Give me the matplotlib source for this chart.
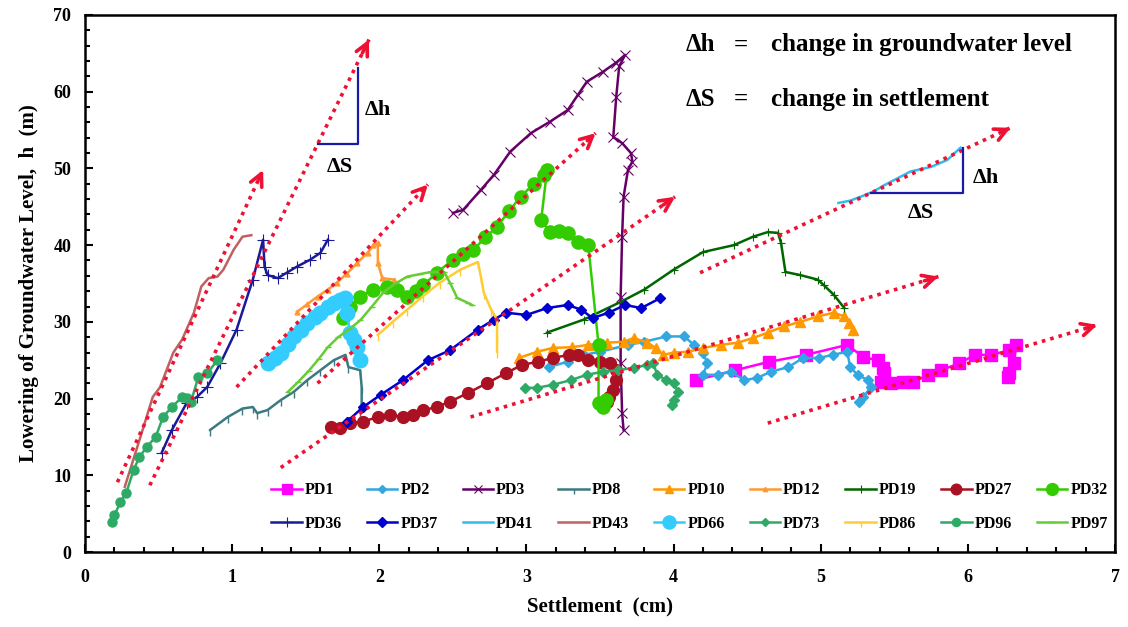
import numpy as np
import matplotlib
matplotlib.use("Agg")
import matplotlib.pyplot as plt

plt.rcParams['font.family'] = ['Liberation Serif', 'DejaVu Serif']
plt.rcParams['font.weight'] = 'bold'
plt.rcParams['axes.labelweight'] = 'bold'

# settlement (cm) / lowering of groundwater level (m)
pd1_x = [4.15, 4.42, 4.65, 4.90, 5.18, 5.29, 5.39, 5.42, 5.43, 5.41, 5.48, 5.56, 5.63, 5.73, 5.82, 5.94, 6.05, 6.16, 6.28, 6.33, 6.31, 6.28, 6.27]
pd1_y = [22.4, 23.7, 24.8, 25.7, 27.0, 25.4, 25.0, 24.0, 23.3, 22.2, 22.0, 22.2, 22.2, 23.1, 23.7, 24.6, 25.7, 25.7, 26.3, 27.0, 24.6, 23.3, 22.8]
pd2_x = [3.15, 3.28, 3.39, 3.50, 3.69, 3.80, 3.95, 4.07, 4.14, 4.20, 4.23, 4.20, 4.30, 4.39, 4.48, 4.57, 4.66, 4.78, 4.88, 4.99, 5.08, 5.18, 5.20, 5.25, 5.32, 5.34, 5.29, 5.26]
pd2_y = [24.1, 24.8, 25.7, 26.1, 27.0, 27.4, 28.1, 28.1, 27.0, 25.9, 24.6, 23.1, 23.1, 23.5, 22.4, 22.7, 23.5, 24.1, 25.3, 25.3, 25.7, 26.1, 24.1, 23.1, 22.4, 21.5, 20.2, 19.6]
pd3_x = [2.50, 2.57, 2.69, 2.78, 2.89, 3.03, 3.16, 3.28, 3.35, 3.41, 3.52, 3.61, 3.67, 3.63, 3.61, 3.59, 3.65, 3.71, 3.72, 3.69, 3.66, 3.65, 3.64, 3.64, 3.65, 3.66]
pd3_y = [44.2, 44.6, 47.2, 49.2, 52.2, 54.6, 56.1, 57.6, 59.6, 61.3, 62.6, 63.8, 64.8, 63.3, 59.3, 54.1, 53.3, 52.0, 50.9, 49.8, 46.3, 41.1, 33.3, 24.6, 18.1, 15.9]
pd8_x = [0.85, 0.97, 1.07, 1.14, 1.17, 1.24, 1.33, 1.42, 1.51, 1.60, 1.69, 1.77, 1.79, 1.87, 1.88, 1.88, 1.87]
pd8_y = [15.9, 17.6, 18.7, 18.9, 18.1, 18.5, 19.8, 20.9, 22.4, 23.7, 25.0, 25.7, 24.1, 23.7, 21.5, 18.9, 18.3]
pd10_x = [2.95, 3.07, 3.18, 3.31, 3.42, 3.55, 3.66, 3.73, 3.82, 3.88, 3.93, 4.00, 4.10, 4.20, 4.32, 4.44, 4.54, 4.64, 4.75, 4.86, 4.98, 5.09, 5.16, 5.19, 5.22]
pd10_y = [25.3, 26.1, 26.6, 26.7, 27.0, 27.3, 27.4, 27.9, 27.3, 26.6, 25.7, 26.0, 26.1, 26.6, 27.0, 27.3, 27.9, 28.6, 29.4, 30.0, 30.7, 31.2, 30.7, 29.9, 29.0]
pd12_x = [1.44, 1.51, 1.58, 1.65, 1.71, 1.78, 1.85, 1.92, 1.96, 1.99, 1.99, 2.02, 2.10]
pd12_y = [31.3, 32.3, 33.3, 34.2, 35.1, 36.3, 37.7, 39.0, 40.0, 40.3, 37.7, 35.7, 35.5]
pd19_x = [3.14, 3.39, 3.64, 3.80, 4.00, 4.20, 4.41, 4.54, 4.64, 4.71, 4.73, 4.76, 4.86, 4.98, 5.02, 5.09, 5.16]
pd19_y = [28.6, 30.3, 32.6, 34.2, 36.8, 39.1, 40.0, 41.1, 41.7, 41.6, 40.3, 36.5, 36.1, 35.5, 34.8, 33.5, 31.8]
pd27_x = [1.67, 1.73, 1.80, 1.89, 1.99, 2.07, 2.16, 2.23, 2.30, 2.39, 2.48, 2.60, 2.73, 2.86, 2.97, 3.08, 3.18, 3.29, 3.35, 3.42, 3.50, 3.57, 3.61, 3.61, 3.59, 3.56, 3.55]
pd27_y = [16.3, 16.2, 16.8, 17.0, 17.6, 17.9, 17.6, 17.9, 18.5, 18.9, 19.6, 20.7, 22.0, 23.3, 24.4, 24.8, 25.3, 25.7, 25.7, 25.0, 24.8, 24.6, 23.7, 22.4, 21.1, 20.2, 19.6]
pd32_x = [1.75, 1.80, 1.87, 1.96, 2.05, 2.12, 2.19, 2.25, 2.30, 2.39, 2.50, 2.57, 2.64, 2.72, 2.80, 2.88, 2.96, 3.05, 3.12, 3.14, 3.10, 3.16, 3.22, 3.28, 3.35, 3.42, 3.49, 3.49, 3.52, 3.54]
pd32_y = [30.5, 32.0, 33.3, 34.2, 34.6, 34.2, 33.3, 34.0, 34.8, 36.4, 38.1, 38.8, 39.4, 41.0, 42.4, 44.4, 46.3, 48.0, 49.2, 49.8, 43.3, 41.7, 41.9, 41.6, 40.4, 40.0, 27.0, 19.4, 18.9, 19.8]
pd36_x = [0.52, 0.59, 0.69, 0.76, 0.83, 0.92, 1.03, 1.14, 1.21, 1.22, 1.24, 1.31, 1.37, 1.44, 1.53, 1.60, 1.65]
pd36_y = [12.9, 15.9, 19.4, 20.2, 21.5, 24.6, 29.0, 35.5, 40.7, 37.2, 36.1, 35.7, 36.4, 37.2, 38.1, 39.0, 40.7]
pd37_x = [1.78, 1.89, 2.01, 2.16, 2.33, 2.48, 2.67, 2.78, 2.86, 3.00, 3.14, 3.28, 3.37, 3.45, 3.56, 3.67, 3.78, 3.91]
pd37_y = [17.0, 18.9, 20.5, 22.4, 25.0, 26.3, 29.0, 30.3, 31.2, 30.9, 31.8, 32.2, 31.6, 30.5, 31.2, 32.2, 31.8, 33.1]
pd41_x = [5.12, 5.20, 5.27, 5.36, 5.43, 5.50, 5.61, 5.75, 5.86, 5.95]
pd41_y = [45.5, 45.8, 46.3, 47.0, 47.8, 48.5, 49.6, 50.2, 51.1, 52.7]
pd43_x = [0.27, 0.37, 0.46, 0.51, 0.60, 0.66, 0.74, 0.79, 0.84, 0.90, 0.94, 1.01, 1.07, 1.13]
pd43_y = [8.5, 14.6, 20.2, 21.5, 26.0, 27.7, 31.2, 34.6, 35.7, 35.9, 36.8, 39.4, 41.1, 41.3]
pd66_x = [1.24, 1.29, 1.33, 1.38, 1.42, 1.47, 1.51, 1.56, 1.60, 1.65, 1.69, 1.73, 1.77, 1.78, 1.80, 1.83, 1.85, 1.87]
pd66_y = [24.6, 25.3, 26.0, 27.1, 28.1, 29.0, 29.9, 30.6, 31.2, 31.9, 32.5, 32.8, 33.1, 31.2, 28.6, 27.6, 26.7, 25.0]
pd73_x = [2.99, 3.07, 3.18, 3.30, 3.41, 3.52, 3.62, 3.73, 3.82, 3.86, 3.89, 3.95, 4.00, 4.03, 4.00, 3.99]
pd73_y = [21.4, 21.4, 21.8, 22.4, 23.1, 23.5, 23.7, 24.0, 24.4, 24.6, 23.1, 22.4, 22.0, 20.9, 19.8, 19.2]
pd86_x = [1.99, 2.09, 2.19, 2.30, 2.41, 2.55, 2.67, 2.69, 2.71, 2.76, 2.80, 2.80, 2.80]
pd86_y = [28.3, 30.0, 31.6, 33.4, 35.1, 36.8, 37.8, 35.9, 33.8, 31.6, 30.3, 28.1, 26.1]
pd96_x = [0.18, 0.20, 0.24, 0.28, 0.33, 0.37, 0.42, 0.48, 0.53, 0.59, 0.66, 0.69, 0.72, 0.77, 0.83, 0.90]
pd96_y = [3.9, 4.8, 6.5, 7.7, 10.7, 12.4, 13.7, 15.0, 17.6, 18.9, 20.2, 20.1, 19.6, 22.8, 23.3, 25.0]
pd97_x = [1.38, 1.45, 1.52, 1.59, 1.65, 1.72, 1.80, 1.87, 1.95, 2.03, 2.11, 2.19, 2.27, 2.35, 2.44, 2.48, 2.53, 2.60, 2.63]
pd97_y = [20.9, 22.2, 23.6, 25.2, 26.7, 28.0, 29.1, 30.2, 32.0, 33.9, 35.0, 35.9, 36.2, 36.5, 36.5, 35.1, 33.1, 32.5, 32.2]

# trend arrows (start, end) in data units
trend_arrows = [
    ((0.22, 9.1), (1.21, 49.8)),
    ((0.44, 8.7), (1.93, 66.8)),
    ((1.03, 21.5), (2.33, 47.9)),
    ((1.58, 22.0), (3.47, 54.6)),
    ((1.33, 11.0), (4.01, 46.3)),
    ((2.62, 17.6), (5.80, 35.9)),
    ((4.64, 16.8), (6.88, 29.6)),
    ((4.18, 36.4), (6.29, 55.3)),
]

# slope triangles: (x_left, x_right, y_base, y_top)
triangles = [(1.585, 1.857, 53.2, 63.1), (5.34, 5.97, 46.8, 52.7)]

series = {
    'PD1': (pd1_x, pd1_y, dict(color='#FF00FF', marker='s', ms=8.5)),
    'PD2': (pd2_x, pd2_y, dict(color='#33A8E0', marker='D', ms=5)),
    'PD3': (pd3_x, pd3_y, dict(color='#660066', marker='x', ms=7, mew=0.8)),
    'PD8': (pd8_x, pd8_y, dict(color='#3A7A80', marker=3, ms=4)),
    'PD10': (pd10_x, pd10_y, dict(color='#FF9900', marker='^', ms=7)),
    'PD12': (pd12_x, pd12_y, dict(color='#FF9933', marker='^', ms=3.5)),
    'PD19': (pd19_x, pd19_y, dict(color='#006600', marker='+', ms=6, mew=0.8)),
    'PD27': (pd27_x, pd27_y, dict(color='#AA1122', marker='o', ms=8.5)),
    'PD32': (pd32_x, pd32_y, dict(color='#33CC00', marker='o', ms=9.5)),
    'PD36': (pd36_x, pd36_y, dict(color='#1A1A99', marker='+', ms=8, mew=0.8)),
    'PD37': (pd37_x, pd37_y, dict(color='#0000CC', marker='D', ms=5.5)),
    'PD41': (pd41_x, pd41_y, dict(color='#33BBEE')),
    'PD43': (pd43_x, pd43_y, dict(color='#C06060')),
    'PD66': (pd66_x, pd66_y, dict(color='#33CCFF', marker='o', ms=10.5)),
    'PD73': (pd73_x, pd73_y, dict(color='#2EAA66', marker='D', ms=5)),
    'PD86': (pd86_x, pd86_y, dict(color='#FFCC33', marker=3, ms=4)),
    'PD96': (pd96_x, pd96_y, dict(color='#2EAA66', marker='o', ms=6.5)),
    'PD97': (pd97_x, pd97_y, dict(color='#66CC33', marker='_', ms=5)),
}

fig = plt.figure(figsize=(11.28, 6.27), dpi=100)
ax = fig.add_axes([0.0754, 0.1196, 0.9131, 0.8565])

lines = {}
for name, (xs, ys, st) in series.items():
    ln, = ax.plot(xs, ys, lw=1.8, label=name, **st)
    lines[name] = ln

red = '#EE1133'
for (x0, y0), (x1, y1) in trend_arrows:
    ax.plot([x0, x1], [y0, y1], color=red, lw=2.6, ls=(0, (1, 1.4)), zorder=5)
    xs = x1 - 0.03 * (x1 - x0)
    ys = y1 - 0.03 * (y1 - y0)
    ax.annotate('', xy=(x1, y1), xytext=(xs, ys),
                arrowprops=dict(arrowstyle='->', color=red, lw=2.6, mutation_scale=22,
                                shrinkA=0, shrinkB=0), zorder=6)

for xl, xr, yb, yt in triangles:
    ax.plot([xl, xr, xr], [yb, yb, yt], color='#1A1AAA', lw=1.6, zorder=6)

ax.text(1.99, 57.6, 'Δh', fontsize=16, ha='center', va='center')
ax.text(1.73, 50.2, 'ΔS', fontsize=16, ha='center', va='center')
ax.text(6.12, 48.8, 'Δh', fontsize=16, ha='center', va='center')
ax.text(5.68, 44.2, 'ΔS', fontsize=16, ha='center', va='center')

ax.text(4.08, 66.1, 'Δh', fontsize=18, ha='left', va='center')
ax.text(4.46, 66.1, '=', fontsize=18, ha='center', va='center')
ax.text(4.66, 66.1, 'change in groundwater level', fontsize=18, ha='left', va='center')
ax.text(4.08, 59.0, 'ΔS', fontsize=18, ha='left', va='center')
ax.text(4.46, 59.0, '=', fontsize=18, ha='center', va='center')
ax.text(4.66, 59.0, 'change in settlement', fontsize=18, ha='left', va='center')

ax.set_xlim(0, 7)
ax.set_ylim(0, 70)
ax.set_xticks(range(0, 8))
ax.set_yticks(range(0, 71, 10))
ax.set_xticks(np.arange(0, 7.01, 0.2), minor=True)
ax.set_yticks(np.arange(0, 70.1, 2), minor=True)
ax.tick_params(which='both', direction='in', width=1.5)
ax.tick_params(which='major', length=6, labelsize=13)
ax.tick_params(axis='x', which='major', pad=12)
ax.tick_params(axis='y', which='major', pad=10)
ax.tick_params(which='minor', length=3.5)
for sp in ax.spines.values():
    sp.set_linewidth(1.8)

ax.set_xlabel('Settlement  (cm)', fontsize=15, labelpad=8)
ax.set_ylabel('Lowering of Groundwater Level,  h  (m)', fontsize=15, labelpad=10)

row1 = ['PD1', 'PD2', 'PD3', 'PD8', 'PD10', 'PD12', 'PD19', 'PD27', 'PD32']
row2 = ['PD36', 'PD37', 'PD41', 'PD43', 'PD66', 'PD73', 'PD86', 'PD96', 'PD97']
order = [n for pair in zip(row1, row2) for n in pair]
ax.legend([lines[n] for n in order], order, ncol=9, loc='center',
          bbox_to_anchor=(0.587, 0.084), frameon=False, fontsize=11.5,
          handlelength=1.9, handletextpad=0.2, columnspacing=1.55, labelspacing=1.1,
          markerscale=0.9)

fig.savefig('out.png', dpi=100, facecolor='white')
